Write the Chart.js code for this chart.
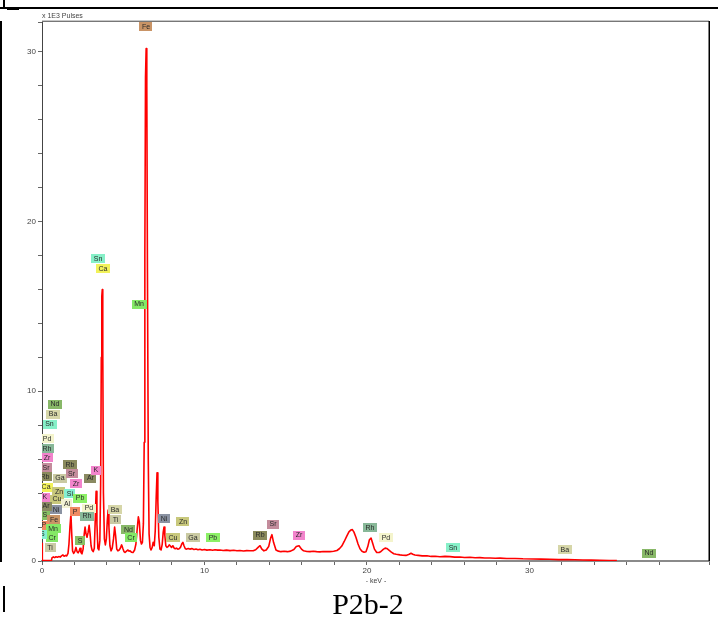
<!DOCTYPE html>
<html>
<head>
<meta charset="utf-8">
<script src="https://cdn.jsdelivr.net/npm/chart.js@4.4.1/dist/chart.umd.min.js"></script>
<style>
  html, body { margin:0; padding:0; background:#fff; width:718px; height:619px; overflow:hidden; }
  #wrap { position:absolute; left:0; top:0; width:718px; height:619px; }
  .ln { position:absolute; background:#000; }
  #caption { position:absolute; left:0; width:736px; top:587px; text-align:center; font-family:"Liberation Serif","Times New Roman",serif; font-size:30px; color:#000; }
</style>
</head>
<body>
<div id="wrap"><canvas id="c" width="718" height="619"></canvas></div>
<div class="ln" style="left:0;top:7px;width:718px;height:2px;"></div>
<div class="ln" style="left:3px;top:0;width:2px;height:9px;"></div>
<div class="ln" style="left:7px;top:8px;width:12px;height:2px;"></div>
<div class="ln" style="left:0;top:21px;width:2px;height:541px;"></div>
<div class="ln" style="left:3px;top:586px;width:2px;height:26px;"></div>
<div id="caption">P2b-2</div>
<script>
// Spectrum: energy (keV) and intensity (x 1000 pulses)
const energyKeV = [0.00,0.02,0.30,0.58,0.62,0.70,0.78,0.86,0.95,1.03,1.12,1.20,1.29,1.36,1.45,1.52,1.60,1.66,1.72,1.78,1.83,1.88,1.95,2.02,2.09,2.16,2.22,2.29,2.34,2.40,2.46,2.53,2.60,2.65,2.71,2.77,2.84,2.90,2.96,3.02,3.08,3.15,3.22,3.28,3.33,3.38,3.44,3.50,3.56,3.61,3.65,3.68,3.71,3.74,3.78,3.84,3.90,3.96,4.02,4.07,4.12,4.18,4.25,4.32,4.40,4.47,4.53,4.60,4.67,4.75,4.82,4.90,4.97,5.05,5.11,5.20,5.29,5.36,5.42,5.50,5.60,5.70,5.78,5.86,5.93,5.99,6.06,6.12,6.18,6.24,6.29,6.33,6.37,6.41,6.45,6.49,6.54,6.59,6.65,6.71,6.78,6.84,6.91,6.97,7.03,7.08,7.13,7.19,7.26,7.33,7.40,7.46,7.51,7.56,7.62,7.69,7.76,7.83,7.90,7.97,8.05,8.12,8.20,8.28,8.36,8.44,8.52,8.60,8.67,8.74,8.82,8.90,9.00,9.10,9.22,9.35,9.48,9.60,9.72,9.85,10.00,10.15,10.34,10.50,10.65,10.80,10.95,11.15,11.35,11.57,11.80,12.00,12.18,12.40,12.60,12.80,13.00,13.15,13.30,13.42,13.52,13.66,13.80,13.95,14.07,14.15,14.25,14.40,14.55,14.70,14.90,15.10,15.30,15.50,15.65,15.82,15.97,16.10,16.30,16.49,16.70,16.90,17.11,17.30,17.50,17.72,17.95,18.15,18.30,18.45,18.60,18.75,18.89,19.00,19.10,19.20,19.32,19.45,19.57,19.69,19.82,19.94,20.05,20.15,20.25,20.35,20.46,20.60,20.75,20.86,21.00,21.12,21.22,21.35,21.50,21.65,21.80,22.03,22.20,22.40,22.60,22.71,22.82,22.95,23.15,23.40,23.69,23.95,24.20,24.49,24.80,25.11,25.40,25.72,26.00,26.34,26.65,26.95,27.25,27.57,27.90,28.18,28.60,29.11,29.60,30.22,30.70,31.26,31.80,32.31,32.80,33.29,33.80,34.34,34.90,35.38];
const pulsesK = [1.05,0.03,0.02,0.02,0.20,0.24,0.20,0.25,0.22,0.26,0.23,0.30,0.36,0.28,0.33,0.30,0.45,1.0,2.0,2.75,1.6,0.6,0.45,0.55,0.80,0.55,0.48,0.60,0.75,0.50,0.42,0.70,1.6,2.0,1.6,1.4,1.7,2.1,1.6,0.9,0.65,0.55,0.75,2.5,4.1,2.2,0.75,0.65,1.2,4.5,12.0,15.6,16.0,12.5,4.0,1.3,0.95,1.3,2.4,3.0,2.0,0.9,0.6,0.75,1.3,2.0,1.5,0.7,0.6,0.65,0.75,0.95,0.75,0.55,0.50,0.58,0.65,0.58,0.60,0.52,0.50,0.65,1.0,1.9,2.6,2.3,1.2,1.0,1.1,2.2,7.0,18.0,28.5,30.2,28.0,17.0,6.0,1.6,0.8,0.65,0.8,1.1,0.9,1.8,3.8,5.2,3.5,1.4,0.7,0.65,1.0,1.7,2.0,1.5,0.9,0.8,0.85,0.95,0.88,0.8,0.9,0.78,0.72,0.76,0.70,0.72,0.8,1.0,1.1,0.9,0.72,0.70,0.74,0.70,0.73,0.68,0.71,0.66,0.69,0.65,0.68,0.64,0.66,0.63,0.66,0.64,0.65,0.62,0.64,0.61,0.63,0.60,0.62,0.59,0.61,0.60,0.60,0.66,0.80,0.90,0.72,0.60,0.65,0.85,1.35,1.55,1.1,0.65,0.58,0.55,0.57,0.55,0.58,0.68,0.85,0.90,0.70,0.60,0.56,0.55,0.57,0.55,0.54,0.56,0.55,0.55,0.57,0.62,0.72,0.88,1.15,1.45,1.72,1.82,1.85,1.7,1.4,1.0,0.72,0.58,0.52,0.55,0.85,1.25,1.35,1.05,0.7,0.5,0.5,0.56,0.68,0.76,0.74,0.64,0.52,0.43,0.40,0.36,0.34,0.33,0.40,0.46,0.40,0.35,0.33,0.30,0.31,0.27,0.28,0.25,0.27,0.26,0.23,0.24,0.21,0.22,0.19,0.20,0.18,0.18,0.16,0.17,0.15,0.15,0.13,0.12,0.11,0.10,0.08,0.08,0.07,0.06,0.05,0.04,0.03,0.02];

// Element marker labels: name, anchor energy (keV), anchor height (x 1000 pulses)
const markerNames = ["Fe","Sn","Ca","Mn","Nd","Ba","Sn","Pd","Rh","Zr","Sr","Rb","Ga","Rb","Sr","Zr","Ar","K","Ca","Zn","Cu","K","Si","Pb","Al","Ni","Ar","P","Pd","Rh","S","Fe","P","Mn","Cr","S","S","Ti","Ba","Ti","Nd","Cr","Ni","Zn","Cu","Ga","Pb","Rb","Sr","Zr","Rh","Pd","Sn","Ba","Nd"];
const markerKeV = [6.40,3.45,3.75,5.97,0.80,0.68,0.46,0.31,0.31,0.31,0.25,0.18,1.11,1.72,1.82,2.09,2.98,3.32,0.25,1.05,0.92,0.18,1.72,2.34,1.54,0.86,0.25,2.03,2.89,2.77,0.18,0.74,0.12,0.68,0.62,0.02,2.34,0.49,4.49,4.52,5.32,5.48,7.51,8.68,8.06,9.29,10.52,13.42,14.22,15.82,20.18,21.17,25.29,32.18,37.35];
const markerHeight = [31.47,17.83,17.21,15.14,9.25,8.66,8.07,7.19,6.60,6.07,5.48,4.95,4.89,5.66,5.13,4.54,4.89,5.36,4.36,4.12,3.65,3.77,3.95,3.71,3.36,3.06,3.24,2.89,3.12,2.65,2.71,2.47,2.12,1.94,1.41,1.59,1.18,0.77,3.06,2.47,1.83,1.36,2.53,2.30,1.36,1.36,1.36,1.53,2.18,1.53,1.97,1.41,0.80,0.65,0.47];

const xTickLabels = [0,10,20,30,40];
const yTickLabels = [0,10,20,30];

// styles per element (colours only)
const elementColor = {
  Fe:"#c99466", Sn:"#86f0c8", Ca:"#f2f25a", Mn:"#84e866", Nd:"#88b868", Ba:"#d6d6a8",
  Pd:"#f4f4cc", Rh:"#88b898", Zr:"#f284cc", Sr:"#c48c9c", Rb:"#8a8a5c", Ga:"#cacaa2",
  Ar:"#8a8a62", K:"#f284cc", Zn:"#c8c87c", Cu:"#c8c87c", Si:"#84f0d2", Pb:"#8cf066",
  Al:"#f2f2d4", Ni:"#8a92a2", P:"#f08a62", S:"#88c064", Cr:"#84e866", Ti:"#cacaa4"
};
const markerColorOverride = {35:"#84f0d2"};

const points = energyKeV.map((e,i)=>({x:e, y:pulsesK[i]}));

const markerPlugin = {
  id:'markers',
  afterDatasetsDraw(chart){
    const {ctx, chartArea:a, scales:{x,y}} = chart;
    ctx.save();
    ctx.beginPath();
    ctx.rect(a.left, 0, a.right-a.left, a.bottom);
    ctx.clip();
    ctx.font = '7px "Liberation Sans", Arial, sans-serif';
    ctx.textAlign = 'center';
    ctx.textBaseline = 'middle';
    markerNames.forEach((n,i)=>{
      const cx = x.getPixelForValue(markerKeV[i]);
      const cy = y.getPixelForValue(markerHeight[i]);
      const w = Math.max(ctx.measureText(n).width + 5, 10);
      const h = 9;
      ctx.fillStyle = markerColorOverride[i] || elementColor[n] || '#ccc';
      ctx.fillRect(Math.round(cx - w/2), Math.round(cy - h/2), Math.round(w), h);
      ctx.fillStyle = '#2a2a2a';
      ctx.fillText(n, cx, cy + 0.5);
    });
    ctx.restore();
  },
  afterDraw(chart){
    const {ctx, chartArea:a} = chart;
    ctx.save();
    ctx.fillStyle = '#c8c8c8';
    ctx.fillRect(a.left, a.top - 2, a.right - a.left, 1);
    ctx.fillStyle = '#777';
    ctx.fillRect(a.left, a.top - 1, a.right - a.left, 1);
    ctx.fillStyle = '#000';
    ctx.fillRect(a.right - 0.5, a.top - 1, 1.5, a.bottom - a.top + 1);
    ctx.fillStyle = '#444';
    ctx.font = '7px "Liberation Sans", Arial, sans-serif';
    ctx.textAlign = 'left';
    ctx.textBaseline = 'alphabetic';
    ctx.fillText('x 1E3 Pulses', a.left, a.top - 4);
    ctx.textAlign = 'center';
    ctx.fillText('- keV -', 376, 583);
    ctx.restore();
  }
};

new Chart(document.getElementById('c'), {
  type:'line',
  data:{ datasets:[{ data:points, borderColor:'#ff0000', borderWidth:1.6, pointRadius:0, tension:0, fill:false, borderJoinStyle:'round' }]},
  options:{
    responsive:false, animation:false, devicePixelRatio:1,
    layout:{ padding:{ top:22, right:9, bottom:38, left:0 } },
    plugins:{ legend:{display:false}, tooltip:{enabled:false} },
    scales:{
      x:{ type:'linear', min:0, max:41.05,
        afterFit(s){ s.height = 20; },
        border:{ display:true, color:'#8a8a8a', width:2 },
        grid:{ display:true, drawOnChartArea:false, drawTicks:true, tickLength:4, color:'#666', tickWidth:1 },
        ticks:{ stepSize:2, autoSkip:false, maxRotation:0, padding:1, color:'#444',
          font:{ family:'"Liberation Sans", Arial', size:8 },
          callback:(v)=> xTickLabels.includes(v) ? String(v) : '' }
      },
      y:{ type:'linear', min:0, max:31.76,
        afterFit(s){ s.width = 42; },
        border:{ display:true, color:'#444', width:1 },
        grid:{ display:true, drawOnChartArea:false, drawTicks:true, tickLength:4, color:'#666', tickWidth:1 },
        ticks:{ stepSize:2, autoSkip:false, padding:2, color:'#444',
          font:{ family:'"Liberation Sans", Arial', size:8 },
          callback:(v)=> yTickLabels.includes(v) ? String(v) : '' }
      }
    }
  },
  plugins:[markerPlugin]
});
</script>
</body>
</html>
